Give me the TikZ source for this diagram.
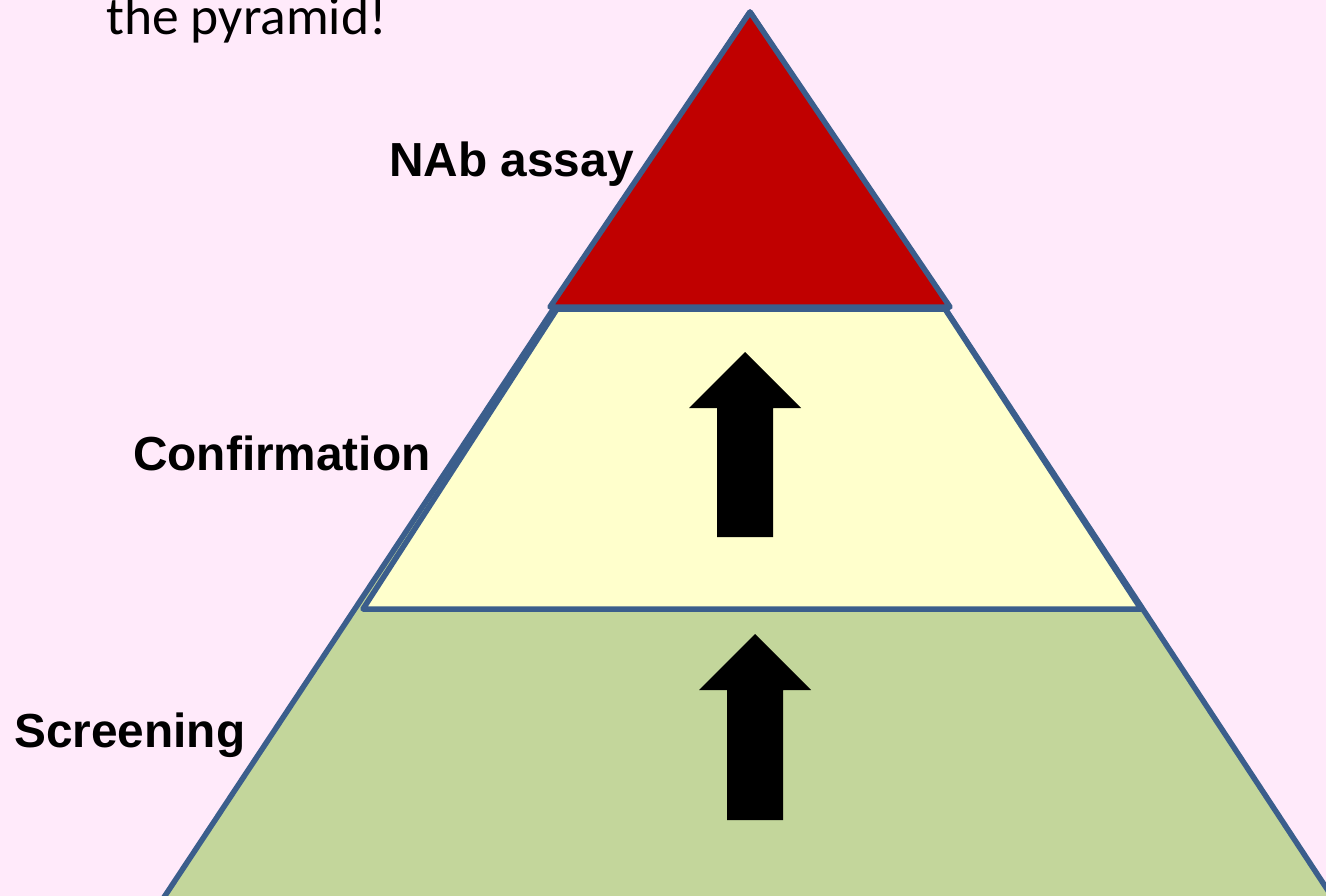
\documentclass[tikz,border=0pt]{standalone}
\usepackage{fontspec}
\setmainfont{Liberation Sans}
\newfontfamily\calfont{Carlito}
\definecolor{bgpink}{RGB}{255,234,250}
\definecolor{edgeblue}{RGB}{59,94,140}
\definecolor{tierred}{RGB}{192,0,0}
\definecolor{tieryellow}{RGB}{255,255,204}
\definecolor{tiergreen}{RGB}{195,214,155}
\tikzset{
  tier/.style={draw=edgeblue, line width=5.5pt, line join=round},
  blockarrow/.style={fill=black, draw=none},
  label/.style={font=\fontsize{47.8}{52}\selectfont\bfseries, text=black, inner sep=0pt},
}
\begin{document}
\begin{tikzpicture}[x=1pt,y=-1pt]
\useasboundingbox (0,0) rectangle (1326,896);
\fill[bgpink] (0,0) rectangle (1326,896);
\begin{scope}
\clip (0,0) rectangle (1326,896);
% base tier (large triangle behind)
\filldraw[tier, fill=tiergreen] (750,12) -- (96,1000) -- (1400,1000) -- cycle;
% middle tier
\filldraw[tier, fill=tieryellow] (557,309) -- (945,309) -- (1141,609) -- (363,609) -- cycle;
% top tier
\filldraw[tier, fill=tierred] (750,12) -- (950,307) -- (550,307) -- cycle;
% block arrows
\fill[blockarrow] (745,352) -- (801,408) -- (773,408) -- (773,537) -- (717,537) -- (717,408) -- (689,408) -- cycle;
\fill[blockarrow] (755,634) -- (811,690) -- (783,690) -- (783,820) -- (727,820) -- (727,690) -- (699,690) -- cycle;
\end{scope}
% labels
\node[label, anchor=base east] (nab) at (634,177) {NAb assay};
\node[label, anchor=base west] (conf) at (133,470) {Confirmation};
\node[label, anchor=base west] (scr) at (14,747) {Screening};
\node[font=\calfont\fontsize{53.5}{58}\selectfont, inner sep=0pt, anchor=base west] (top) at (106,35) {the pyramid!};
\end{tikzpicture}
\end{document}
